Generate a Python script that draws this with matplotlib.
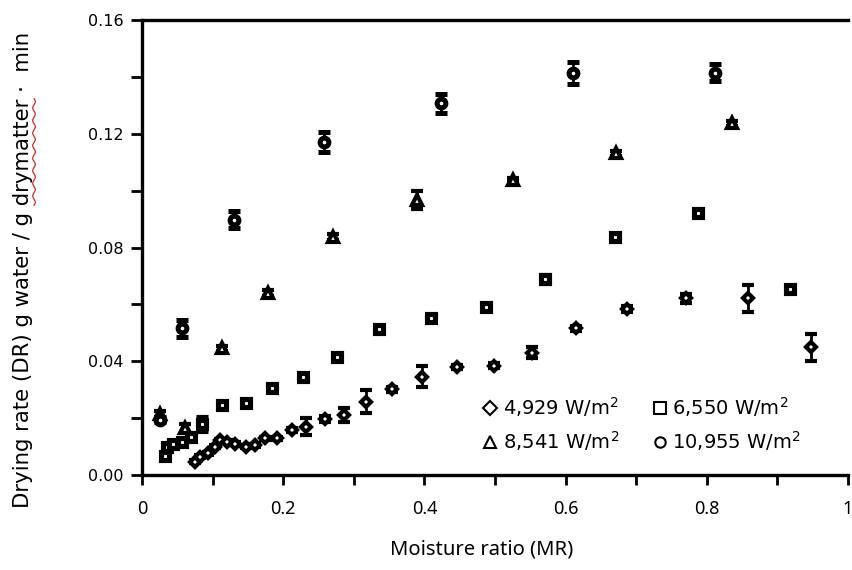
import numpy as np
import matplotlib
matplotlib.use("Agg")
import matplotlib.pyplot as plt
from matplotlib.font_manager import FontProperties

plt.rcParams["mathtext.fontset"] = "dejavusans"

# Moisture ratio (MR) vs drying rate (DR) for four power densities
mr_4929 = [0.075, 0.082, 0.094, 0.103, 0.110, 0.120, 0.132, 0.148, 0.160, 0.174,
           0.191, 0.212, 0.233, 0.259, 0.286, 0.317, 0.354, 0.396, 0.446, 0.498,
           0.553, 0.615, 0.687, 0.770, 0.859, 0.948]
dr_4929 = [0.0047, 0.0064, 0.0076, 0.0100, 0.0123, 0.0117, 0.0110, 0.0100, 0.0105, 0.0129,
           0.0129, 0.0158, 0.0170, 0.0196, 0.0211, 0.0258, 0.0301, 0.0346, 0.0379, 0.0385,
           0.0430, 0.0516, 0.0583, 0.0621, 0.0621, 0.0449]
err_4929 = [0.0005, 0.0005, 0.0005, 0.0005, 0.0005, 0.0005, 0.0005, 0.0005, 0.0005, 0.0005,
            0.0005, 0.0008, 0.0030, 0.0010, 0.0026, 0.0040, 0.0008, 0.0036, 0.0008, 0.0008,
            0.0020, 0.0008, 0.0010, 0.0015, 0.0047, 0.0047]

mr_6550 = [0.033, 0.036, 0.044, 0.056, 0.070, 0.085, 0.113, 0.148, 0.184, 0.228,
           0.276, 0.336, 0.409, 0.487, 0.571, 0.670, 0.788, 0.918]
dr_6550 = [0.0068, 0.0100, 0.0110, 0.0117, 0.0135, 0.0180, 0.0246, 0.0252, 0.0305, 0.0344,
           0.0414, 0.0513, 0.0551, 0.0590, 0.0690, 0.0838, 0.0920, 0.0653]
err_6550 = [0.0008, 0.0008, 0.0008, 0.0008, 0.0008, 0.0025, 0.0008, 0.0008, 0.0008, 0.0008,
            0.0008, 0.0008, 0.0008, 0.0008, 0.0015, 0.0010, 0.0008, 0.0008]

mr_8541 = [0.025, 0.061, 0.114, 0.179, 0.270, 0.389, 0.526, 0.672, 0.835]
dr_8541 = [0.0215, 0.0165, 0.0445, 0.0641, 0.0838, 0.0967, 0.1037, 0.1131, 0.1237]
err_8541 = [0.0010, 0.0015, 0.0010, 0.0010, 0.0010, 0.0030, 0.0008, 0.0008, 0.0008]

mr_10955 = [0.025, 0.056, 0.130, 0.258, 0.424, 0.610, 0.811]
dr_10955 = [0.0195, 0.0516, 0.0897, 0.1170, 0.1307, 0.1414, 0.1414]
err_10955 = [0.0010, 0.0030, 0.0030, 0.0035, 0.0033, 0.0038, 0.0030]

series_labels = ["4,929 W/m$^2$", "6,550 W/m$^2$", "8,541 W/m$^2$", "10,955 W/m$^2$"]

x_ticks = [0, 0.1, 0.2, 0.3, 0.4, 0.5, 0.6, 0.7, 0.8, 0.9, 1.0]
x_ticklabels = ["0", "", "0.2", "", "0.4", "", "0.6", "", "0.8", "", "1"]
y_ticks = [0.00, 0.02, 0.04, 0.06, 0.08, 0.10, 0.12, 0.14, 0.16]
y_ticklabels = ["0.00", "", "0.04", "", "0.08", "", "0.12", "", "0.16"]

fig = plt.figure(figsize=(8.53, 5.70), dpi=100)
ax = fig.add_axes([142 / 853, 1 - 475 / 570, (848 - 142) / 853, (475 - 20) / 570])

# (marker, size, edge width) per series
styles = [("D", 4.8, 3.0), ("s", 6.0, 3.7), ("^", 6.5, 3.0), ("o", 6.3, 3.6)]
data = [(mr_4929, dr_4929, err_4929), (mr_6550, dr_6550, err_6550),
        (mr_8541, dr_8541, err_8541), (mr_10955, dr_10955, err_10955)]

for (mk, ms, mew), (xs, ys, es) in zip(styles, data):
    ax.errorbar(xs, ys, yerr=es, fmt=mk, ms=ms, mfc="white", mec="black", mew=mew,
                ecolor="black", elinewidth=2.0, capsize=4, capthick=2.0, zorder=3)

# legend drawn with plain open markers
legend_sizes = {"D": 7.0, "s": 8.0, "^": 8.0, "o": 7.5}
handles = []
for (mk, ms, mew), lab in zip(styles, series_labels):
    h, = ax.plot([], [], linestyle="none", marker=mk, ms=legend_sizes[mk],
                 mfc="white", mec="black", mew=1.5, label=lab)
    handles.append(h)
order = [0, 2, 1, 3]
leg = ax.legend([handles[i] for i in order], [series_labels[i] for i in order],
                ncol=2, frameon=False, loc="center left",
                bbox_to_anchor=(0.479, 0.112), borderpad=0.0, borderaxespad=0.0,
                handletextpad=0.15, columnspacing=1.6, labelspacing=0.5,
                handlelength=1.0,
                prop=FontProperties(family="DejaVu Sans", size=14.0))

ax.set_xlim(0, 1)
ax.set_ylim(0, 0.16)
ax.set_xticks(x_ticks)
ax.set_xticklabels(x_ticklabels, fontfamily="Noto Sans", fontsize=13)
ax.set_yticks(y_ticks)
ax.set_yticklabels(y_ticklabels, fontfamily="DejaVu Sans", fontsize=11.5)
ax.tick_params(axis="x", direction="out", length=7, width=2.0, pad=11)
ax.tick_params(axis="y", direction="out", length=8, width=2.0, pad=5)

for side in ("left", "bottom", "top"):
    ax.spines[side].set_linewidth(2.4)
ax.spines["right"].set_visible(False)

fig.text(482 / 853, 1 - 549 / 570, "Moisture ratio (MR)", ha="center", va="center",
         fontfamily="Noto Sans", fontsize=14.5)

ylab_text = "Drying rate (DR) g water / g drymatter ·  min"
ylab_font = FontProperties(family="DejaVu Sans", size=15.3)
ylab_x = 23 / 853
ylab = fig.text(ylab_x, 1 - 270 / 570, ylab_text, rotation=90, ha="center", va="center",
                fontproperties=ylab_font)

# red wavy underline beneath "drymatter" in the y label
fig.canvas.draw()
renderer = fig.canvas.get_renderer()
bb = ylab.get_window_extent(renderer)
base_y = bb.y0 / fig.bbox.height


def measured_top(s):
    t = fig.text(ylab_x, base_y, s, rotation=90, ha="center", va="bottom",
                 fontproperties=ylab_font)
    top = t.get_window_extent(renderer).y1
    t.remove()
    return top


word_end = measured_top("Drying rate (DR) g water / g drymatter")
word_start = word_end - (measured_top("drymatter") - bb.y0)
yy = np.linspace(word_start, word_end, 160)
xx = bb.x1 + 1.0 + 1.3 * np.sin((yy - word_start) / 2.0)
fig.add_artist(plt.Line2D(xx / fig.bbox.width, yy / fig.bbox.height,
                          transform=fig.transFigure, color="#c0302a", lw=0.9))

fig.savefig("out.png", dpi=100)
